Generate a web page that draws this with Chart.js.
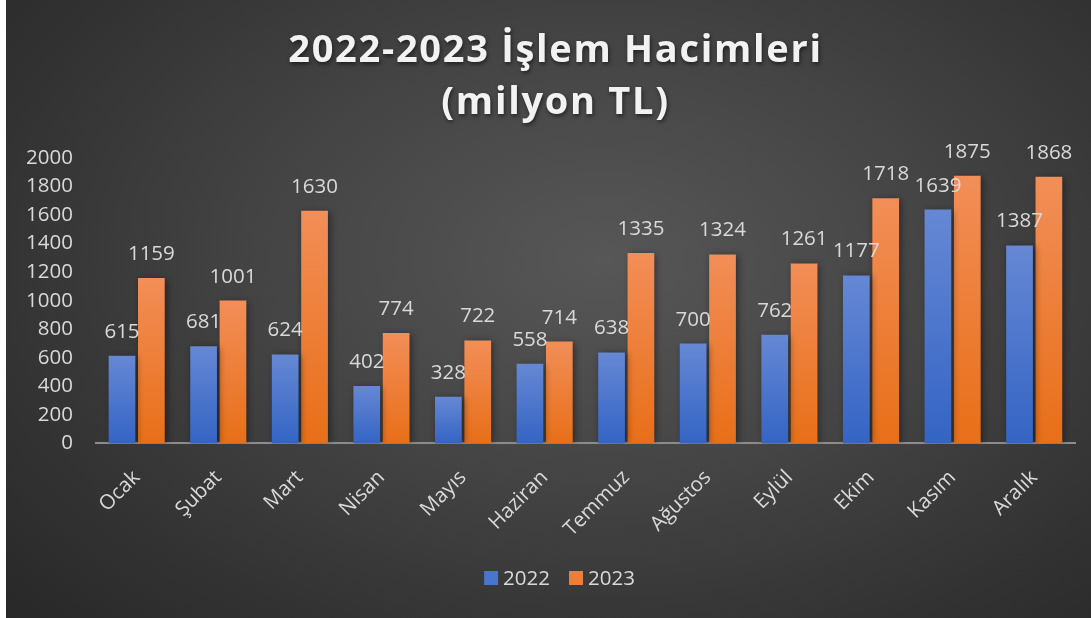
<!DOCTYPE html>
<html>
<head>
<meta charset="utf-8">
<script src="https://cdn.jsdelivr.net/npm/chart.js@4.4.1/dist/chart.umd.min.js"></script>
<style>
  html, body { margin: 0; padding: 0; background: #ffffff; }
  #wrap {
    position: absolute; left: 6px; top: 0; width: 1085px; height: 618px;
    background: radial-gradient(ellipse 75% 85% at 55% 42%, #575757 0%, #454545 40%, #333333 75%, #282828 100%);
  }
  canvas { display: block; }
</style>
</head>
<body>
<div id="wrap"><canvas id="c" width="1085" height="618"></canvas></div>
<script>
const categories = ['Ocak', 'Şubat', 'Mart', 'Nisan', 'Mayıs', 'Haziran', 'Temmuz', 'Ağustos', 'Eylül', 'Ekim', 'Kasım', 'Aralık'];
const values2022 = [615, 681, 624, 402, 328, 558, 638, 700, 762, 1177, 1639, 1387];
const values2023 = [1159, 1001, 1630, 774, 722, 714, 1335, 1324, 1261, 1718, 1875, 1868];
const seriesNames = ['2022', '2023'];
const yTicks = [0, 200, 400, 600, 800, 1000, 1200, 1400, 1600, 1800, 2000];
const titleLines = ['2022-2023 İşlem Hacimleri', '(milyon TL)'];

const FONT = "'Open Sans', 'DejaVu Sans', sans-serif";
const TEXT = '#d9d9d9';
const FS = 20.5;
const LEGEND_FILLS = ['#4a75cc', '#f07d35'];

function barGradient(top, bottom) {
  return function (context) {
    const chart = context.chart;
    const area = chart.chartArea;
    if (!area || context.type !== 'data') return bottom;
    const yScale = chart.scales.y;
    const v = context.parsed ? context.parsed.y : context.raw;
    const yTop = yScale.getPixelForValue(v);
    const yBot = yScale.getPixelForValue(0);
    const g = chart.ctx.createLinearGradient(0, yTop, 0, yBot);
    g.addColorStop(0, top);
    g.addColorStop(1, bottom);
    return g;
  };
}

const shadowPlugin = {
  id: 'barShadow',
  beforeDatasetsDraw(chart) {
    const ctx = chart.ctx;
    ctx.save();
    ctx.shadowColor = 'rgba(0,0,0,0.45)';
    ctx.shadowBlur = 7;
    ctx.shadowOffsetX = 2;
    ctx.shadowOffsetY = 1;
  },
  afterDatasetsDraw(chart) {
    chart.ctx.restore();
  }
};

const labelPlugin = {
  id: 'valueLabels',
  afterDatasetsDraw(chart) {
    const ctx = chart.ctx;
    ctx.save();
    ctx.font = FS + 'px ' + FONT;
    ctx.fillStyle = TEXT;
    ctx.textAlign = 'center';
    ctx.textBaseline = 'alphabetic';
    chart.data.datasets.forEach((ds, i) => {
      const meta = chart.getDatasetMeta(i);
      meta.data.forEach((el, j) => {
        ctx.fillText(String(ds.data[j]), el.x, el.y - 18);
      });
    });
    ctx.restore();
  }
};

const titlePlugin = {
  id: 'customTitle',
  afterDraw(chart) {
    const ctx = chart.ctx;
    ctx.save();
    ctx.font = 'bold 38px ' + FONT;
    if ('letterSpacing' in ctx) ctx.letterSpacing = '1.7px';
    ctx.fillStyle = '#f2f2f2';
    ctx.textAlign = 'center';
    ctx.textBaseline = 'alphabetic';
    ctx.shadowColor = 'rgba(0,0,0,0.55)';
    ctx.shadowBlur = 4;
    ctx.shadowOffsetX = 1;
    ctx.shadowOffsetY = 2;
    const cx = chart.width / 2 + 7;
    ctx.fillText(titleLines[0], cx, 62);
    ctx.fillText(titleLines[1], cx, 114);
    ctx.restore();
  }
};

const legendPlugin = {
  id: 'customLegend',
  afterDraw(chart) {
    const ctx = chart.ctx;
    ctx.save();
    ctx.font = FS + 'px ' + FONT;
    const box = 14, gap = 5, itemGap = 19;
    const names = chart.data.datasets.map(d => d.label);
    const widths = names.map(n => ctx.measureText(n).width);
    let total = 0;
    widths.forEach((w, i) => { total += box + gap + w + (i < widths.length - 1 ? itemGap : 0); });
    let x = 553.5 - total / 2;
    const cy = 578;
    ctx.textBaseline = 'middle';
    ctx.textAlign = 'left';
    names.forEach((n, i) => {
      ctx.fillStyle = LEGEND_FILLS[i];
      ctx.fillRect(x, cy - box / 2, box, box);
      x += box + gap;
      ctx.fillStyle = TEXT;
      ctx.fillText(n, x, cy + 1);
      x += widths[i] + itemGap;
    });
    ctx.restore();
  }
};

new Chart(document.getElementById('c'), {
  type: 'bar',
  data: {
    labels: categories,
    datasets: [
      { label: seriesNames[0], data: values2022, backgroundColor: barGradient('#6688d4', '#3464c4'), borderWidth: 0 },
      { label: seriesNames[1], data: values2023, backgroundColor: barGradient('#f28e58', '#e86f18'), borderWidth: 0 }
    ]
  },
  options: {
    responsive: false,
    animation: false,
    devicePixelRatio: 1,
    layout: { padding: { left: -3, right: 16, top: 158, bottom: 54.5 } },
    datasets: { bar: { categoryPercentage: 0.72, barPercentage: 0.91 } },
    plugins: {
      title: { display: false },
      legend: { display: false },
      tooltip: { enabled: false }
    },
    scales: {
      x: {
        grid: { display: false, drawTicks: false },
        border: { display: true, color: '#8c8c8c', width: 2 },
        ticks: {
          color: TEXT, font: { family: FONT, size: FS },
          maxRotation: 45, minRotation: 45, padding: 22
        }
      },
      y: {
        min: 0, max: 2000,
        grid: { display: false, drawTicks: false },
        border: { display: false },
        afterBuildTicks(scale) { scale.ticks = yTicks.map(v => ({ value: v })); },
        ticks: { color: TEXT, font: { family: FONT, size: FS }, padding: 23, callback: v => String(v) }
      }
    }
  },
  plugins: [shadowPlugin, labelPlugin, titlePlugin, legendPlugin]
});
</script>
</body>
</html>
